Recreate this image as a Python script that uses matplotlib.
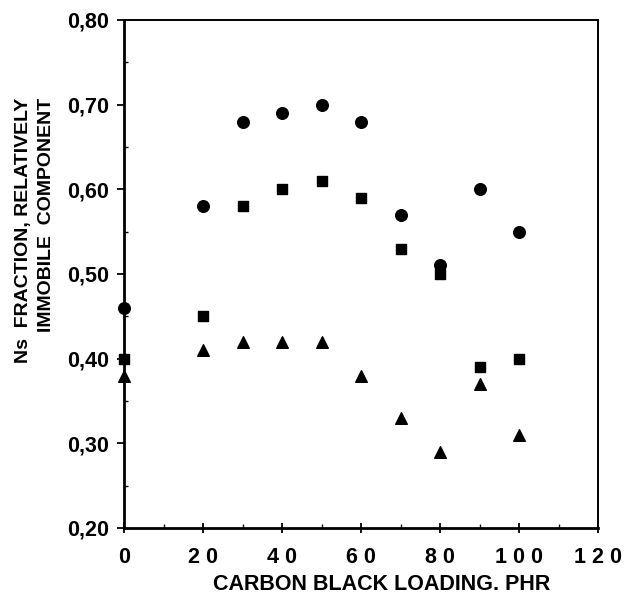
import numpy as np
import matplotlib.pyplot as plt
from matplotlib.ticker import MultipleLocator

# carbon black loading (phr)
loading = [0, 20, 30, 40, 50, 60, 70, 80, 90, 100]
# fraction of relatively immobile component, three series
ns_circle = [0.46, 0.58, 0.68, 0.69, 0.70, 0.68, 0.57, 0.51, 0.60, 0.55]
ns_square = [0.40, 0.45, 0.58, 0.60, 0.61, 0.59, 0.53, 0.50, 0.39, 0.40]
ns_triangle = [0.38, 0.41, 0.42, 0.42, 0.42, 0.38, 0.33, 0.29, 0.37, 0.31]

xticks = [0, 20, 40, 60, 80, 100, 120]
yticks = [0.20, 0.30, 0.40, 0.50, 0.60, 0.70, 0.80]

plt.rcParams['font.family'] = ['Liberation Sans', 'DejaVu Sans']
plt.rcParams['font.weight'] = 'bold'

fig = plt.figure(figsize=(6.31, 5.97), dpi=100)
ax = fig.add_axes([0.1965, 0.1156, 0.7515, 0.851])

ax.scatter(loading, ns_circle, marker='o', s=70, color='black', clip_on=False, zorder=3)
ax.scatter(loading, ns_square, marker='s', s=60, color='black', clip_on=False, zorder=3)
ax.scatter(loading, ns_triangle, marker='^', s=70, color='black', clip_on=False, zorder=3)

ax.set_xlim(0, 120)
ax.set_ylim(0.20, 0.80)
ax.set_xticks(xticks)
ax.set_xticklabels([' '.join(str(v)) for v in xticks], fontsize=15.5, fontweight='bold')
ax.set_yticks(yticks)
ax.set_yticklabels([('%.2f' % v).replace('.', ',') for v in yticks], fontsize=15.5, fontweight='bold')
ax.xaxis.set_minor_locator(MultipleLocator(10))
ax.yaxis.set_minor_locator(MultipleLocator(0.05))
ax.tick_params(axis='x', which='major', direction='inout', length=7, width=1.3, pad=10)
ax.tick_params(axis='y', which='major', direction='out', length=5, width=1.3, pad=6)
ax.tick_params(which='minor', direction='in', length=3, width=1)

for sp in ax.spines.values():
    sp.set_linewidth(1.4)
ax.spines['left'].set_linewidth(2)
ax.spines['bottom'].set_linewidth(2)

fig.text(382 / 631, 1 - 584 / 597, 'CARBON BLACK LOADING. PHR', ha='center', va='center',
         fontsize=15.5, fontweight='bold')
fig.text(35 / 631, 1 - 230 / 597, 'Ns  FRACTION, RELATIVELY\nIMMOBILE  COMPONENT',
         rotation=90, ha='center', va='center', multialignment='right',
         fontsize=14, fontweight='bold', linespacing=1.45)

fig.savefig('out.png', dpi=100)
